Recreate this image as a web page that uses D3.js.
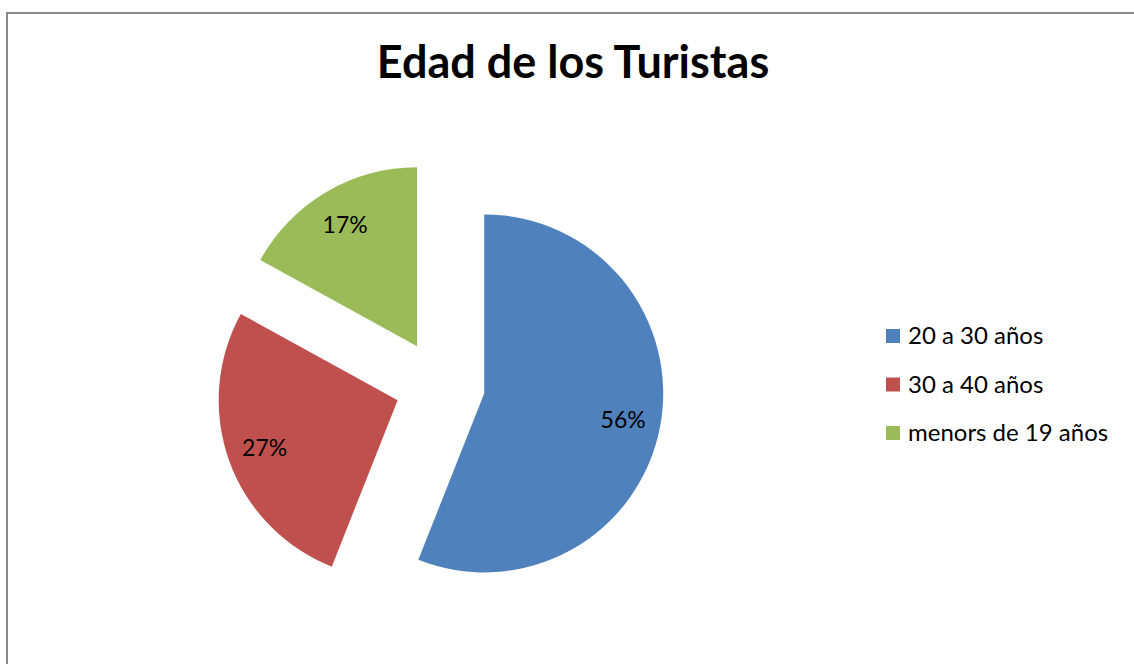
<!DOCTYPE html>
<html>
<head>
<meta charset="utf-8">
<script src="https://cdn.jsdelivr.net/npm/d3@7"></script>
<style>
  body { margin: 0; background: #fff; }
  svg { display: block; font-family: Lato, "Open Sans", sans-serif; }
</style>
</head>
<body>
<div id="chart"></div>
<script>
const categories = ["20 a 30 años", "30 a 40 años", "menors de 19 años"];
const values = [56, 27, 17];
const colors = ["#4f81bd", "#c0504d", "#9bbb59"];
const title = "Edad de los Turistas";

const width = 1134, height = 664;
const svg = d3.select("#chart").append("svg")
  .attr("width", width)
  .attr("height", height);

// chart frame (only top/left visible in the shot)
svg.append("path")
  .attr("d", `M7,${height + 5} L7,13 L${width + 5},13`)
  .attr("fill", "none")
  .attr("stroke", "#898989")
  .attr("stroke-width", 2);

svg.append("text")
  .attr("x", 573)
  .attr("y", 78)
  .attr("text-anchor", "middle")
  .attr("font-size", 45)
  .attr("font-weight", "bold")
  .text(title);

const cx = 440, cy = 385, r = 179, explode = 45;
const pie = d3.pie().sort(null).value(d => d)(values);
const arc = d3.arc().innerRadius(0).outerRadius(r);
const mid = d => (d.startAngle + d.endAngle) / 2;

const g = svg.append("g").attr("transform", `translate(${cx},${cy})`);

const slice = g.selectAll("g.slice")
  .data(pie)
  .join("g")
  .attr("class", "slice")
  .attr("transform", d => `translate(${explode * Math.sin(mid(d))},${-explode * Math.cos(mid(d))})`);

slice.append("path")
  .attr("d", arc)
  .attr("fill", (d, i) => colors[i]);

// value labels along the mid angle
const labelArc = d3.arc().innerRadius(r * 0.79).outerRadius(r * 0.79);
slice.append("text")
  .attr("transform", d => `translate(${labelArc.centroid(d)})`)
  .attr("text-anchor", "middle")
  .attr("dy", "0.35em")
  .attr("font-size", 23)
  .text(d => d.value + "%");

// legend
const legend = svg.append("g")
  .selectAll("g")
  .data(categories)
  .join("g")
  .attr("transform", (d, i) => `translate(886,${336 + i * 48.5})`);

legend.append("rect")
  .attr("x", 0)
  .attr("y", -7)
  .attr("width", 14)
  .attr("height", 14)
  .attr("fill", (d, i) => colors[i]);

legend.append("text")
  .attr("x", 22)
  .attr("dy", "0.35em")
  .attr("font-size", 24)
  .text(d => d);
</script>
</body>
</html>
